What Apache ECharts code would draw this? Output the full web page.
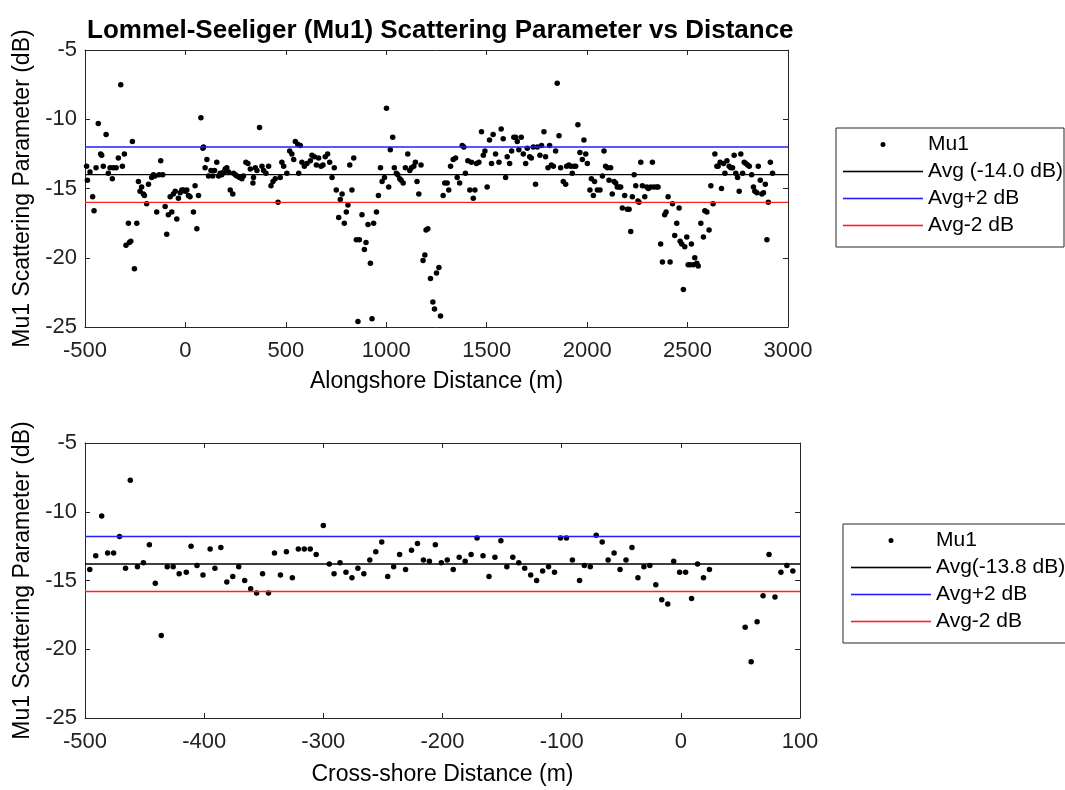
<!DOCTYPE html>
<html><head><meta charset="utf-8">
<script src="https://cdn.jsdelivr.net/npm/echarts@6/dist/echarts.min.js"></script>
<style>html,body{margin:0;padding:0;background:#fff}#c{width:1065px;height:790px}</style>
</head><body><div id="c"></div>
<script>
// ---- Data ----
const alongshoreMu1 = [
[-505,-12.5],[-492,-13.4],[-488,-14.4],[-475,-13.8],[-462,-15.6],[-455,-16.6],[-445,-13.5],[-434,-10.3],[-422,-12.5],[-417,-12.6],[-409,-13.4],[-395,-11.1],[-384,-13.9],[-375,-13.5],[-364,-14.3],[-359,-13.5],[-345,-13.5],[-334,-12.8],[-322,-7.5],[-314,-13.4],[-304,-12.5],[-296,-19.1],[-284,-17.5],[-279,-18.9],[-272,-18.8],[-264,-11.6],[-254,-20.8],[-242,-17.5],[-234,-14.5],[-226,-15.2],[-218,-14.9],[-209,-15.4],[-204,-15.5],[-193,-16.1],[-184,-14.7],[-168,-14.2],[-159,-14.0],[-151,-14.1],[-143,-16.7],[-131,-14.0],[-123,-13.0],[-113,-14.0],[-101,-16.3],[-93,-18.3],[-85,-16.9],[-76,-15.6],[-68,-16.7],[-60,-15.4],[-51,-15.2],[-43,-17.2],[-35,-15.7],[-26,-15.3],[-18,-15.1],[-10,-15.1],[-1,-15.2],[7,-15.1],[15,-15.5],[23,-15.6],[40,-16.7],[48,-14.8],[57,-17.9],[65,-15.5],[77,-9.9],[87,-12.1],[90,-12.0],[98,-13.5],[107,-12.9],[115,-14.1],[127,-13.7],[136,-14.1],[145,-13.7],[156,-13.1],[165,-14.1],[173,-13.9],[181,-14.0],[190,-13.8],[198,-13.6],[206,-13.5],[215,-13.8],[223,-15.1],[236,-15.4],[240,-13.9],[248,-14.0],[256,-14.1],[269,-14.2],[281,-14.3],[289,-14.1],[301,-13.1],[311,-13.2],[323,-13.6],[336,-14.6],[339,-14.2],[348,-13.5],[356,-13.7],[369,-10.6],[381,-13.4],[389,-13.7],[401,-13.9],[414,-13.4],[426,-14.8],[436,-14.5],[447,-14.3],[461,-16.0],[472,-14.2],[480,-13.1],[489,-13.4],[505,-13.9],[519,-12.3],[530,-12.5],[539,-12.9],[547,-11.6],[559,-11.8],[564,-13.9],[572,-11.9],[580,-13.1],[592,-13.4],[605,-13.2],[622,-13.0],
[630,-12.6],[642,-12.7],[652,-13.3],[663,-12.8],[675,-13.4],[685,-13.3],[696,-12.7],[708,-12.5],[718,-13.1],[730,-14.2],[741,-13.5],[751,-15.1],[763,-17.1],[771,-15.8],[780,-15.4],[791,-17.5],[801,-16.7],[809,-16.2],[818,-13.3],[829,-15.1],[838,-12.8],[851,-18.7],[859,-24.6],[866,-18.7],[879,-16.9],[891,-19.4],[899,-18.9],[909,-17.6],[921,-20.4],[929,-24.4],[937,-17.5],[951,-16.7],[961,-15.5],[971,-13.5],[979,-14.5],[991,-14.2],[1001,-9.2],[1012,-14.9],[1020,-12.2],[1032,-11.3],[1040,-13.5],[1050,-13.9],[1057,-14.0],[1067,-14.3],[1074,-14.4],[1084,-14.6],[1095,-13.5],[1107,-12.5],[1117,-13.7],[1125,-13.5],[1137,-13.4],[1145,-13.1],[1153,-14.5],[1162,-15.4],[1173,-13.3],[1183,-20.2],[1192,-19.8],[1198,-18.0],[1207,-17.9],[1220,-21.5],[1232,-23.2],[1240,-23.7],[1250,-21.1],[1262,-20.7],[1270,-24.2],[1283,-15.5],[1291,-14.6],[1303,-14.6],[1311,-15.1],[1320,-13.4],[1333,-12.9],[1345,-12.8],[1353,-14.2],[1365,-14.6],[1378,-11.9],[1386,-12.0],[1394,-13.9],[1406,-13.0],[1416,-15.1],[1424,-13.1],[1433,-15.7],[1441,-15.1],[1449,-13.2],[1461,-13.1],[1474,-10.9],[1483,-12.6],[1491,-12.3],[1502,-14.9],[1514,-11.5],[1524,-13.2],[1532,-11.1],[1544,-12.5],[1561,-13.1],[1572,-10.7],[1582,-11.4],[1594,-14.2],[1602,-12.7],[1614,-13.2],[1624,-12.3],[1635,-11.3],[1644,-11.3],[1652,-11.6],[1660,-12.2],[1672,-11.3],[1682,-12.5],[1694,-13.2],[1702,-12.1],[1714,-12.7],[1722,-12.8],[1732,-12.0],[1743,-14.7],[1752,-12.0],[1765,-12.6],[1773,-11.9],[1785,-10.9],[1793,-12.7],[1805,-13.5],[1813,-11.9],[1822,-13.3],[1832,-13.4],[1843,-12.3],[1851,-7.4],[1860,-11.2],
[1868,-13.5],[1881,-14.5],[1893,-14.7],[1898,-13.4],[1909,-13.3],[1918,-13.4],[1926,-13.9],[1934,-13.4],[1943,-13.4],[1954,-10.4],[1964,-12.4],[1976,-12.9],[1984,-11.5],[1993,-12.5],[2001,-13.2],[2014,-15.1],[2021,-14.3],[2031,-15.5],[2037,-14.5],[2051,-15.1],[2064,-15.1],[2076,-14.1],[2084,-12.3],[2092,-13.4],[2101,-13.5],[2109,-14.4],[2117,-13.5],[2125,-15.4],[2134,-14.5],[2142,-14.6],[2150,-14.9],[2159,-14.9],[2167,-14.9],[2175,-16.4],[2187,-15.5],[2200,-16.5],[2209,-16.5],[2217,-18.1],[2225,-15.6],[2234,-14.0],[2242,-14.8],[2253,-15.9],[2258,-16.0],[2267,-13.1],[2275,-14.8],[2287,-15.6],[2297,-14.9],[2305,-15.0],[2317,-14.9],[2325,-13.1],[2333,-14.9],[2347,-14.9],[2353,-14.9],[2366,-19.0],[2375,-20.3],[2386,-16.9],[2393,-16.7],[2403,-15.6],[2413,-20.3],[2425,-16.1],[2436,-18.4],[2446,-17.5],[2458,-16.4],[2463,-18.8],[2471,-19.0],[2479,-22.3],[2486,-19.2],[2496,-18.5],[2503,-20.5],[2513,-20.5],[2519,-19.0],[2529,-20.5],[2536,-20.0],[2546,-20.4],[2553,-20.6],[2566,-17.5],[2579,-18.5],[2586,-16.6],[2596,-16.7],[2607,-18.0],[2616,-14.8],[2627,-16.1],[2636,-12.5],[2646,-13.4],[2652,-13.4],[2662,-13.1],[2669,-15.0],[2679,-13.2],[2686,-13.9],[2696,-13.0],[2707,-13.4],[2715,-13.5],[2724,-13.5],[2732,-12.6],[2740,-13.9],[2749,-14.2],[2757,-15.2],[2765,-12.5],[2774,-13.9],[2782,-13.1],[2790,-13.2],[2799,-13.3],[2807,-13.4],[2819,-14.0],[2828,-14.9],[2835,-15.2],[2845,-15.3],[2852,-13.4],[2862,-14.4],[2870,-15.4],[2878,-15.3],[2887,-14.7],[2895,-18.7],[2902,-16.0],[2912,-13.1],[2923,-13.9]
];
const crossshoreMu1 = [
[-501,-13.5],[-496,-14.2],[-491,-13.2],[-486,-10.3],[-481,-13.0],[-476,-13.0],[-471,-11.8],[-466,-14.1],[-462,-7.7],[-456,-14.0],[-451,-13.7],[-446,-12.4],[-441,-15.2],[-436,-19.0],[-431,-14.0],[-426,-14.0],[-421,-14.5],[-415,-14.4],[-411,-12.5],[-406,-13.9],[-401,-14.6],[-395,-12.7],[-391,-14.1],[-386,-12.6],[-381,-15.1],[-376,-14.7],[-371,-14.0],[-366,-15.0],[-361,-15.6],[-356,-15.9],[-351,-14.5],[-346,-15.9],[-341,-13.0],[-336,-14.6],[-331,-12.9],[-326,-14.8],[-321,-12.7],[-316,-12.7],[-311,-12.7],[-306,-13.1],
[-300,-11.0],[-295,-13.8],[-291,-14.5],[-286,-13.7],[-281,-14.4],[-276,-14.8],[-271,-14.1],[-266,-14.5],[-261,-13.5],[-256,-12.9],[-251,-12.2],[-246,-14.7],[-241,-14.0],[-236,-13.1],[-231,-14.2],[-226,-12.8],[-221,-12.3],[-216,-13.5],[-211,-13.6],[-206,-12.4],[-201,-13.7],[-196,-13.5],[-191,-14.2],[-186,-13.3],[-181,-13.6],[-176,-13.1],[-171,-11.9],[-166,-13.2],[-161,-14.7],[-156,-13.3],[-151,-12.1],[-146,-14.0],[-141,-13.3],[-136,-13.7],[-131,-14.1],[-126,-14.6],[-121,-15.0],[-116,-14.3],[-111,-14.0],[-106,-14.4],
[-101,-11.9],[-96,-11.9],[-91,-13.5],[-85,-15.0],[-81,-13.9],[-76,-14.0],[-71,-11.7],[-66,-12.2],[-61,-13.5],[-56,-13.0],[-51,-14.2],[-46,-13.5],[-41,-12.6],[-36,-14.8],[-31,-14.0],[-26,-13.9],[-21,-15.3],[-16,-16.4],[-11,-16.7],[-6,-13.6],[-1,-14.4],[4,-14.4],[9,-16.3],[14,-13.8],[19,-14.8],[24,-14.2],[54,-18.4],[59,-20.9],[64,-18.0],[69,-16.1],[74,-13.1],[79,-16.2],[84,-14.4],[89,-13.9],[94,-14.3]
];
const alongAvg = -14.0;
const crossAvg = -13.8;
const bandDb = 2;
const alongXRange = [-500, 3000, 500];
const crossXRange = [-500, 100, 100];
const yRange = [-25, -5, 5];
const titleText = 'Lommel-Seeliger (Mu1) Scattering Parameter vs Distance';
const yName = 'Mu1 Scattering Parameter (dB)';
const alongXName = 'Alongshore Distance (m)';
const crossXName = 'Cross-shore Distance (m)';
const topNames = ['Mu1', 'Avg (-14.0 dB)', 'Avg+2 dB', 'Avg-2 dB'];
const botNames = ['Mu1 ', 'Avg(-13.8 dB)', 'Avg+2 dB ', 'Avg-2 dB '];
const lineColors = ['#000000', '#1f1fff', '#ff2020'];

// ---- Chart ----
const FONT = '"Liberation Sans", Arial, Helvetica, sans-serif';
const AX = '#262626';
const chart = echarts.init(document.getElementById('c'), null, {renderer: 'canvas'});

function svgIcon(inner) {
  return 'image://data:image/svg+xml;charset=utf-8,' + encodeURIComponent(
    "<svg xmlns='http://www.w3.org/2000/svg' width='80' height='20' viewBox='0 0 80 20'>" + inner + "</svg>");
}
const dotIcon = svgIcon("<circle cx='40' cy='10' r='2.5' fill='#000'/>");
const lineIcon = c => svgIcon("<rect x='0' y='9.2' width='80' height='1.6' fill='" + c + "'/>");

function xAx(grid, r, pos, name, gap) {
  const main = pos === 'bottom';
  return {
    type: 'value', gridIndex: grid, position: pos, min: r[0], max: r[1], interval: r[2],
    name: main ? name : '', nameLocation: 'middle', nameGap: gap,
    nameTextStyle: {fontSize: 23, color: '#000', fontFamily: FONT},
    axisLine: {show: true, onZero: false, lineStyle: {color: AX, width: 1}},
    axisTick: {show: true, inside: true, length: 5, lineStyle: {color: AX, width: 1}},
    axisLabel: {show: main, fontSize: 22, color: '#222', fontFamily: FONT, margin: 13,
      formatter: v => String(v)},
    splitLine: {show: false}
  };
}
function yAx(grid, r, pos) {
  const main = pos === 'left';
  return {
    type: 'value', gridIndex: grid, position: pos, min: r[0], max: r[1], interval: r[2],
    name: main ? yName : '', nameLocation: 'middle', nameGap: 50, nameRotate: 90,
    nameTextStyle: {fontSize: 23, color: '#000', fontFamily: FONT},
    axisLine: {show: true, onZero: false, lineStyle: {color: AX, width: 1}},
    axisTick: {show: true, inside: true, length: 5, lineStyle: {color: AX, width: 1}},
    axisLabel: {show: main, fontSize: 22, color: '#222', fontFamily: FONT, margin: 8,
      formatter: v => String(v)},
    splitLine: {show: false}
  };
}
function hLine(name, r, v, color, xi, yi) {
  return {
    type: 'line', name: name, xAxisIndex: xi, yAxisIndex: yi,
    data: [[r[0], v], [r[1], v]], symbol: 'none', silent: true, z: 3,
    lineStyle: {color: color, width: 1.4}, itemStyle: {color: color}, color: color
  };
}
function legend(names, left, top, pad) {
  return {
    orient: 'vertical', left: left, top: top, padding: pad,
    itemWidth: 80, itemHeight: 20, itemGap: 6,
    borderColor: AX, borderWidth: 1, backgroundColor: '#fff',
    selectedMode: false,
    textStyle: {fontSize: 21, color: '#000', fontFamily: FONT},
    data: [
      {name: names[0], icon: dotIcon},
      {name: names[1], icon: lineIcon(lineColors[0])},
      {name: names[2], icon: lineIcon(lineColors[1])},
      {name: names[3], icon: lineIcon(lineColors[2])}
    ]
  };
}

const option = {
  animation: false,
  backgroundColor: '#fff',
  title: {text: titleText, left: 87, top: 18, padding: 0,
    textStyle: {fontSize: 26, fontWeight: 'bold', color: '#000', fontFamily: FONT}},
  grid: [
    {left: 85, top: 50, width: 703, height: 277, show: false},
    {left: 85, top: 443, width: 715, height: 275, show: false}
  ],
  xAxis: [
    xAx(0, alongXRange, 'bottom', alongXName, 43),
    xAx(0, alongXRange, 'top', '', 0),
    xAx(1, crossXRange, 'bottom', crossXName, 45),
    xAx(1, crossXRange, 'top', '', 0)
  ],
  yAxis: [
    yAx(0, yRange, 'left'), yAx(0, yRange, 'right'),
    yAx(1, yRange, 'left'), yAx(1, yRange, 'right')
  ],
  legend: [
    legend(topNames, 836, 128, [6, 1, 11, 7]),
    legend(botNames, 843, 524, [6, 1, 11, 8])
  ],
  series: [
    {type: 'scatter', name: topNames[0], xAxisIndex: 0, yAxisIndex: 0, data: alongshoreMu1,
      symbol: 'circle', symbolSize: 5.5, itemStyle: {color: '#000', opacity: 1}, silent: true, z: 2},
    hLine(topNames[1], alongXRange, alongAvg, lineColors[0], 0, 0),
    hLine(topNames[2], alongXRange, alongAvg + bandDb, lineColors[1], 0, 0),
    hLine(topNames[3], alongXRange, alongAvg - bandDb, lineColors[2], 0, 0),
    {type: 'scatter', name: botNames[0], xAxisIndex: 2, yAxisIndex: 2, data: crossshoreMu1,
      symbol: 'circle', symbolSize: 5.5, itemStyle: {color: '#000', opacity: 1}, silent: true, z: 2},
    hLine(botNames[1], crossXRange, crossAvg, lineColors[0], 2, 2),
    hLine(botNames[2], crossXRange, crossAvg + bandDb, lineColors[1], 2, 2),
    hLine(botNames[3], crossXRange, crossAvg - bandDb, lineColors[2], 2, 2)
  ]
};
chart.setOption(option);
</script></body></html>
